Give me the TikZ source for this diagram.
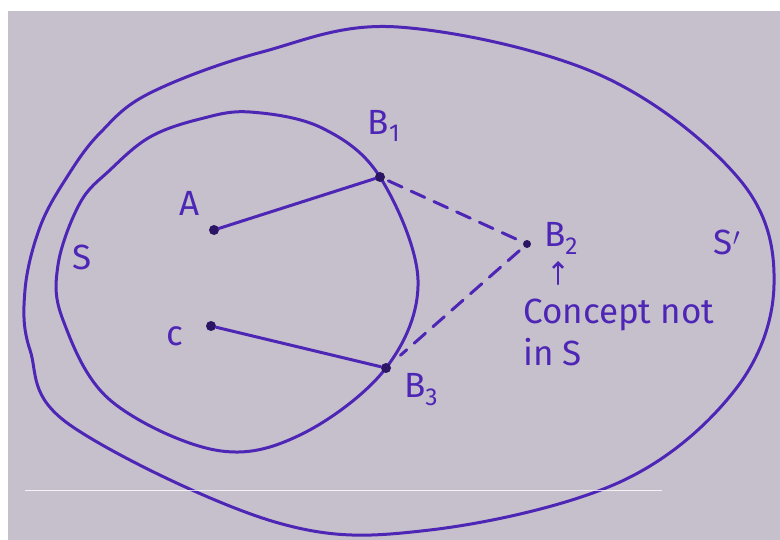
\documentclass[tikz,border=0pt]{standalone}
\usepackage{fontspec}
\setmainfont{Fira Sans}
\usetikzlibrary{arrows.meta}
\definecolor{paper}{RGB}{198,192,204}
\definecolor{ink}{RGB}{78,38,182}
\tikzset{
  ink/.style={draw=ink, line width=3pt, line cap=round, line join=round},
  dot/.style={circle, fill=ink!55!black, inner sep=0pt, minimum size=10pt},
  lbl/.style={text=ink, font=\fontsize{35}{42}\selectfont, inner sep=1pt},
}
\begin{document}
\begin{tikzpicture}[x=1pt, y=-1pt]
    \useasboundingbox (0,0) rectangle (780,540);
    \fill[white] (0,0) rectangle (780,540);
    \fill[paper] (8,11) rectangle (780,540);

    % the two sets
    \draw[ink] plot[smooth cycle, tension=0.6] coordinates {(398,27) (600,75) (740,180) (774,285) (735,390) (620,482) (430,530) (275,522) (70,425) (30,350) (25,290) (40,227) (67,177) (100,133) (150,93) (262,52)};
    \draw[ink] plot[smooth cycle, tension=0.6] coordinates {(250,112) (322,128) (380,177) (418,280) (386,368) (300,435) (215,450) (110,400) (63,320) (58,265) (80,203) (110,170) (150,137) (200,119)};

    % the points
    \node[dot] (A) at (214,230) {};
    \node[dot] (C) at (211,326) {};
    \node[dot] (B1) at (380,177) {};
    \node[dot, minimum size=8pt] (B2) at (527,244) {};
    \node[dot] (B3) at (386,368) {};

    \draw[ink] (A) -- (B1);
    \draw[ink] (C) -- (B3);
    \draw[ink, dash pattern=on 15pt off 10pt, shorten <=4pt, shorten >=6pt] (B1) -- (B2);
    \draw[ink, dash pattern=on 15pt off 10pt, shorten <=6pt, shorten >=14pt] (B2) -- (B3);

    % labels
    \node[lbl] (Albl) at (190,203) {A};
    \node[lbl] (Clbl) at (175,336) {c};
    \node[lbl] (B1lbl) at (384,126) {B\textsubscript{1}};
    \node[lbl] (B2lbl) at (561,238) {B\textsubscript{2}};
    \node[lbl] (B3lbl) at (421,390) {B\textsubscript{3}};
    \node[lbl] (Slbl) at (82,257) {S};
    \node[lbl] (Splbl) at (727,242) {S$'$};
    \node[lbl, align=left, anchor=north west] (note) at (522,298) {Concept not\\in S};

    \coordinate (tail) at (558,284);
    \coordinate (tip) at (558,261);
    \draw[ink, line width=2.5pt, -{Straight Barb[length=5pt,width=10pt]}] (tail) -- (tip);

    % crease in the photo
    \draw[white, opacity=0.8, line width=0.8pt] (25,490) -- (662,490);
\end{tikzpicture}
\end{document}
